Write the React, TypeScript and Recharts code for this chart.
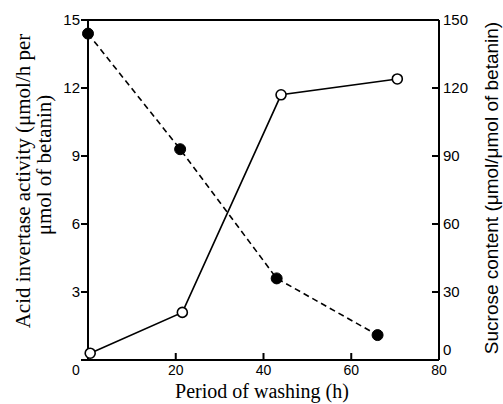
import React from 'react';
import { LineChart, Line, XAxis, YAxis } from 'recharts';

const washHoursInvertase = [0, 21, 43, 66];
const invertaseActivity = [14.4, 9.3, 3.6, 1.1];
const washHoursSucrose = [0.5, 21.5, 44, 70.5];
const sucroseContent = [3, 21, 117, 124];
const xTicks = [0, 20, 40, 60, 80];
const leftTicks = [0, 3, 6, 9, 12, 15];
const rightTicks = [0, 30, 60, 90, 120, 150];

const invertaseData = washHoursInvertase.map((x, i) => ({ x, y: invertaseActivity[i] }));
const sucroseData = washHoursSucrose.map((x, i) => ({ x, y: sucroseContent[i] }));

const SANS = "'Liberation Sans', Arial, sans-serif";
const SERIF = "'Liberation Serif', 'Times New Roman', serif";

const BottomTick = (props: any) => {
  const { x, y, payload } = props;
  const dx = payload.value === 0 ? -12 : 0;
  return (
    <text x={x + dx} y={y + 10} dy="0.36em" textAnchor="middle" fontFamily={SANS} fontSize={14} fill="#000">
      {payload.value}
    </text>
  );
};

const LeftTick = (props: any) => {
  const { x, y, payload } = props;
  if (payload.value === 0) return <g />;
  return (
    <text x={x} y={y} dy="0.36em" textAnchor="end" fontFamily={SANS} fontSize={15} fill="#000">
      {payload.value}
    </text>
  );
};

const RightTick = (props: any) => {
  const { x, y, payload } = props;
  const dy = payload.value === 0 ? -10 : 0;
  return (
    <text x={x} y={y + dy} dy="0.36em" textAnchor="start" fontFamily={SANS} fontSize={15} fill="#000">
      {payload.value}
    </text>
  );
};

const EmptyTick = () => <g />;

const FilledDot = (props: any) => {
  const { cx, cy } = props;
  return <circle cx={cx} cy={cy} r={5.5} fill="#000" stroke="#000" strokeWidth={1} />;
};

const OpenDot = (props: any) => {
  const { cx, cy } = props;
  return <circle cx={cx} cy={cy} r={5} fill="#fff" stroke="#000" strokeWidth={1.6} />;
};

export default function App() {
  const axisStroke = { stroke: '#000', strokeWidth: 2 };
  return (
    <div style={{ position: 'absolute', left: 0, top: 0, width: 503, height: 404, background: '#fff' }}>
      <LineChart width={503} height={404} margin={{ top: 0, right: 0, bottom: 0, left: 0 }}>
        <XAxis
          xAxisId="bottom"
          dataKey="x"
          type="number"
          domain={[0, 80]}
          ticks={xTicks}
          orientation="bottom"
          height={44}
          axisLine={axisStroke}
          tickLine={axisStroke}
          tickSize={-7}
          tickMargin={7}
          tick={<BottomTick />}
          interval={0}
        />
        <XAxis
          xAxisId="top"
          dataKey="x"
          type="number"
          domain={[0, 80]}
          ticks={xTicks}
          orientation="top"
          height={20}
          axisLine={axisStroke}
          tickLine={axisStroke}
          tickSize={-7}
          tick={<EmptyTick />}
          interval={0}
        />
        <YAxis
          yAxisId="left"
          dataKey="y"
          type="number"
          domain={[0, 15]}
          ticks={leftTicks}
          orientation="left"
          width={88}
          axisLine={axisStroke}
          tickLine={axisStroke}
          tickSize={7}
          tickMargin={1}
          tick={<LeftTick />}
          interval={0}
        />
        <YAxis
          yAxisId="right"
          dataKey="y"
          type="number"
          domain={[0, 150]}
          ticks={rightTicks}
          orientation="right"
          width={64}
          axisLine={axisStroke}
          tickLine={axisStroke}
          tickSize={-7}
          tickMargin={11}
          tick={<RightTick />}
          interval={0}
        />
        <Line
          data={invertaseData}
          xAxisId="bottom"
          yAxisId="left"
          dataKey="y"
          type="linear"
          stroke="#000"
          strokeWidth={1.6}
          strokeDasharray="6 4"
          dot={<FilledDot />}
          activeDot={false}
          isAnimationActive={false}
        />
        <Line
          data={sucroseData}
          xAxisId="bottom"
          yAxisId="right"
          dataKey="y"
          type="linear"
          stroke="#000"
          strokeWidth={1.6}
          dot={<OpenDot />}
          activeDot={false}
          isAnimationActive={false}
        />
      </LineChart>
      <svg width={503} height={404} style={{ position: 'absolute', left: 0, top: 0, pointerEvents: 'none' }}>
        <text transform="translate(30,181) rotate(-90)" textAnchor="middle" fontFamily={SERIF} fontSize={21} fill="#000">
          Acid invertase activity (μmol/h per
        </text>
        <text transform="translate(51,165) rotate(-90)" textAnchor="middle" fontFamily={SERIF} fontSize={21} fill="#000">
          μmol of betanin)
        </text>
        <text x={262} y={398} textAnchor="middle" fontFamily={SERIF} fontSize={20} fill="#000">
          Period of washing (h)
        </text>
        <text transform="translate(498,188) rotate(-90)" textAnchor="middle" fontFamily={SANS} fontSize={19} fill="#000">
          Sucrose content (μmol/μmol of betanin)
        </text>
      </svg>
    </div>
  );
}
